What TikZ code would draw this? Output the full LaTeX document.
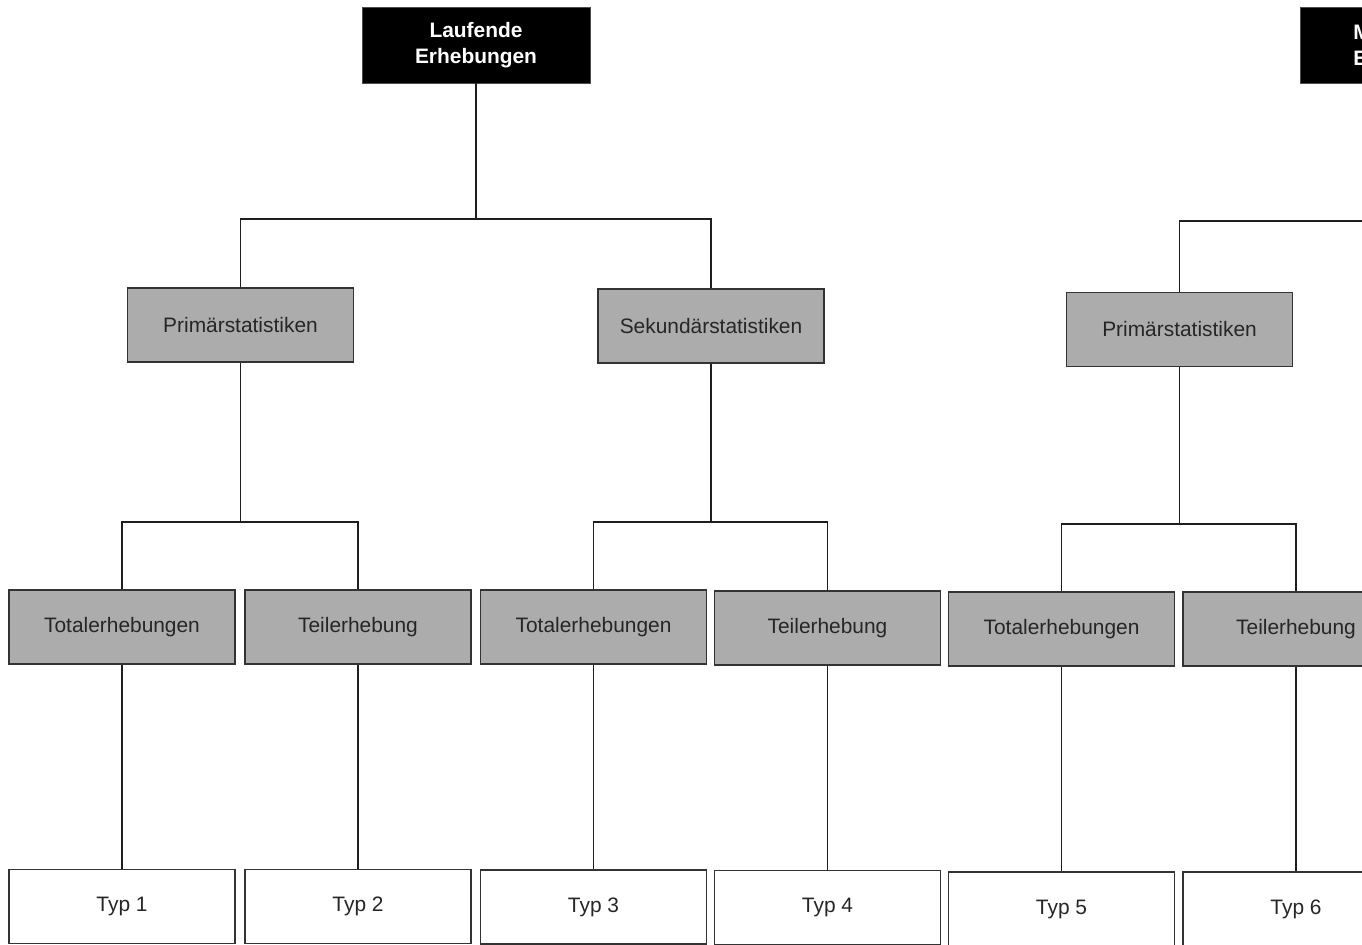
\documentclass[tikz,border=0pt]{standalone}
\usepackage{fontspec}
\setmainfont{Liberation Sans}
\usetikzlibrary{positioning}
\tikzstyle{chart} = [x = .02cm, y = -.02cm]
\definecolor{boxGray}{RGB}{172,172,172}
\definecolor{lineColor}{RGB}{30,30,30}
\tikzstyle{headStyle} = [fill=black, draw=black!70, text=white, align=center, inner sep=0pt,
  font=\bfseries\fontsize{11.9}{15}\selectfont, minimum width=4.56cm, minimum height=1.52cm]
\tikzstyle{grayStyle} = [fill=boxGray, draw=black!80, line width=.7pt, text=black!85, inner sep=0pt,
  font=\fontsize{11.9}{14}\selectfont, minimum width=4.52cm, minimum height=1.48cm]
\tikzstyle{typStyle} = [grayStyle, fill=white]
\tikzstyle{link} = [draw=lineColor, line width=.8pt]
\newcommand{\grayBox}[3]{\node [grayStyle] (#1) at (#2) {#3};}
\newcommand{\typBox}[3]{\node [typStyle] (#1) at (#2) {#3};}

\begin{document}
\begin{tikzpicture}[chart]
  \clip (0,0) rectangle (1362,945);
  \fill [white] (0,0) rectangle (1362,945);

  % heads
  \node [headStyle] (head) at (476,45) {Laufende\\Erhebungen};
  \node [headStyle, anchor=west, align=left, text width=2.44cm, inner xsep=1.06cm] (headRight) at (1300,45.5) {M\\E};

  % second row
  \grayBox{primA}{240.5,325}{Primärstatistiken}
  \grayBox{sek}{711,326}{Sekundärstatistiken}
  \grayBox{primB}{1179.5,329.5}{Primärstatistiken}

  % third row
  \grayBox{totA}{122,627}{Totalerhebungen}
  \grayBox{teilA}{358,627}{Teilerhebung}
  \grayBox{totB}{593.5,627}{Totalerhebungen}
  \grayBox{teilB}{827.5,628}{Teilerhebung}
  \grayBox{totC}{1061.5,629}{Totalerhebungen}
  \grayBox{teilC}{1296,629}{Teilerhebung}

  % last row
  \typBox{typA}{122,906.5}{Typ 1}
  \typBox{typB}{358,906.5}{Typ 2}
  \typBox{typC}{593.5,907}{Typ 3}
  \typBox{typD}{827.5,907.5}{Typ 4}
  \typBox{typE}{1061.5,909}{Typ 5}
  \typBox{typF}{1296,909}{Typ 6}

  % joints
  \coordinate (jHead) at (476,219);
  \coordinate (jRight) at (1420,221);
  \coordinate (jPrimA) at (240.5,522);
  \coordinate (jSek) at (711,522);
  \coordinate (jPrimB) at (1179.5,524);

  \draw [link] (head) -- (jHead);
  \draw [link] (primA) |- (jHead) -| (sek);
  \draw [link] (primB) |- (jRight);

  \draw [link] (primA) -- (jPrimA);
  \draw [link] (totA) |- (jPrimA) -| (teilA);
  \draw [link] (sek) -- (jSek);
  \draw [link] (totB) |- (jSek) -| (teilB);
  \draw [link] (primB) -- (jPrimB);
  \draw [link] (totC) |- (jPrimB) -| (teilC);

  \foreach \upper/\lower in {totA/typA, teilA/typB, totB/typC, teilB/typD, totC/typE, teilC/typF} {
    \draw [link] (\upper) -- (\lower);
  }
\end{tikzpicture}
\end{document}
